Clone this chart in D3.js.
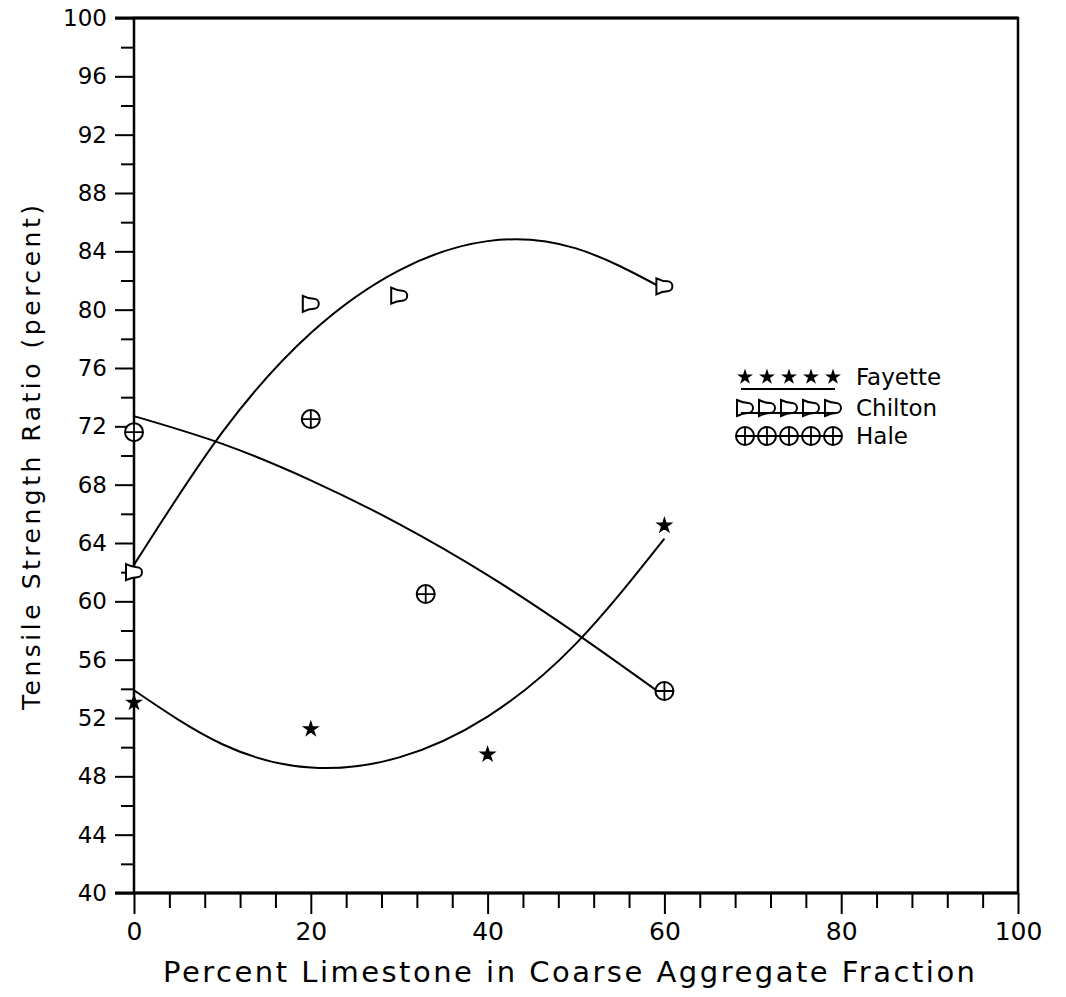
<!DOCTYPE html>
<html>
<head>
<meta charset="utf-8">
<script src="https://cdn.jsdelivr.net/npm/d3@7"></script>
<style>
  body { margin: 0; background: #fff; }
  svg text { font-family: "DejaVu Sans", sans-serif; fill: #000; }
  .axis path, .axis line { stroke: #000; stroke-width: 2; }
</style>
</head>
<body>
<div id="chart"></div>
<script>

// measured points
const fayetteX = [0, 20, 40, 60];
const fayetteY = [53.05, 51.24, 49.5, 65.2];

const chiltonX = [0, 20, 30, 60];
const chiltonY = [62.0, 80.4, 80.96, 81.6];

const haleX = [0, 20, 33, 60];
const haleY = [71.6, 72.5, 60.5, 53.85];

// fitted curves at every 10 %
const curveX = [0, 10, 20, 30, 40, 50, 60];
const fayetteCurve = [53.9, 50.2, 48.6, 49.3, 52.1, 57.1, 64.3];
const chiltonCurve = [62.5, 71.6, 78.4, 82.7, 84.7, 84.2, 81.4];
const haleCurve = [72.7, 70.8, 68.3, 65.3, 61.8, 57.8, 53.5];

const xMajorTicks = [0, 20, 40, 60, 80, 100];
const yMajorTicks = [40, 44, 48, 52, 56, 60, 64, 68, 72, 76, 80, 84, 88, 92, 96, 100];

const legendNames = ["Fayette", "Chilton", "Hale"];

const width = 1066;
const height = 997;

const x = d3.scaleLinear().domain([0, 100]).range([134, 1018]);
const y = d3.scaleLinear().domain([40, 100]).range([893, 18]);

const svg = d3.select("#chart")
  .append("svg")
  .attr("width", width)
  .attr("height", height);

// Axes

const xMinor = d3.range(0, 101, 4).filter(d => d % 20 !== 0);
const yMinor = d3.range(42, 100, 4);

svg.append("g")
  .attr("class", "axis")
  .attr("transform", `translate(0,${y(40)})`)
  .call(d3.axisBottom(x).tickValues(xMinor).tickSize(15).tickSizeOuter(0).tickFormat(""))
  .call(g => g.select(".domain").remove());

svg.append("g")
  .attr("class", "axis")
  .attr("transform", `translate(0,${y(40)})`)
  .call(d3.axisBottom(x).tickValues(xMajorTicks).tickSize(21).tickSizeOuter(0).tickPadding(8))
  .call(g => g.select(".domain").remove())
  .call(g => g.selectAll("text").style("font-size", "25px"));

svg.append("g")
  .attr("class", "axis")
  .attr("transform", `translate(${x(0)},0)`)
  .call(d3.axisLeft(y).tickValues(yMinor).tickSize(13).tickSizeOuter(0).tickFormat(""))
  .call(g => g.select(".domain").remove());

svg.append("g")
  .attr("class", "axis")
  .attr("transform", `translate(${x(0)},0)`)
  .call(d3.axisLeft(y).tickValues(yMajorTicks).tickSize(19).tickSizeOuter(0).tickPadding(8))
  .call(g => g.select(".domain").remove())
  .call(g => g.selectAll("text").style("font-size", "23px"));

// frame
svg.append("rect")
  .attr("x", x(0))
  .attr("y", y(100))
  .attr("width", x(100) - x(0))
  .attr("height", y(40) - y(100))
  .attr("fill", "none")
  .attr("stroke", "#000")
  .attr("stroke-width", 2.5);

svg.append("line")
  .attr("x1", x(0) - 19).attr("x2", x(100))
  .attr("y1", y(40)).attr("y2", y(40))
  .attr("stroke", "#000").attr("stroke-width", 3);

svg.append("line")
  .attr("x1", x(0) - 19).attr("x2", x(100))
  .attr("y1", y(100)).attr("y2", y(100))
  .attr("stroke", "#000").attr("stroke-width", 3);

// Axis titles

svg.append("text")
  .attr("x", 569)
  .attr("y", 982)
  .attr("text-anchor", "middle")
  .attr("textLength", 812)
  .attr("lengthAdjust", "spacing")
  .style("font-size", "29px")
  .text("Percent Limestone in Coarse Aggregate Fraction");

svg.append("text")
  .attr("transform", `translate(40,${(y(40) + y(100)) / 2 + 2}) rotate(-90)`)
  .attr("text-anchor", "middle")
  .attr("textLength", 505)
  .attr("lengthAdjust", "spacing")
  .style("font-size", "25px")
  .text("Tensile Strength Ratio (percent)");

// Curves

const line = d3.line()
  .x(d => x(d[0]))
  .y(d => y(d[1]))
  .curve(d3.curveNatural);

[fayetteCurve, chiltonCurve, haleCurve].forEach(values => {
  svg.append("path")
    .datum(curveX.map((d, i) => [d, values[i]]))
    .attr("d", line)
    .attr("fill", "none")
    .attr("stroke", "#000")
    .attr("stroke-width", 2);
});

// Markers

const bellPath = "M-8,-8 L-8,8 Q-2,5 3,5 A5,5 0 0 0 3,-5 Q-2,-5 -8,-8 Z";

function drawStar(g, cx, cy, size) {
  g.append("path")
    .attr("d", d3.symbol(d3.symbolStar).size(size)())
    .attr("transform", `translate(${cx},${cy})`)
    .attr("fill", "#000")
    .attr("stroke", "#000")
    .attr("stroke-width", 1.5);
}

function drawBell(g, cx, cy) {
  g.append("path")
    .attr("d", bellPath)
    .attr("transform", `translate(${cx},${cy})`)
    .attr("fill", "#fff")
    .attr("stroke", "#000")
    .attr("stroke-width", 2);
}

function drawHale(g, cx, cy, r) {
  g.append("circle")
    .attr("cx", cx).attr("cy", cy).attr("r", r)
    .attr("fill", "#fff")
    .attr("stroke", "#000")
    .attr("stroke-width", 2);
  g.append("path")
    .attr("d", `M${cx - r},${cy}H${cx + r}M${cx},${cy - r}V${cy + r}`)
    .attr("stroke", "#000")
    .attr("stroke-width", 1.8);
}

const marks = svg.append("g");

fayetteX.forEach((d, i) => drawStar(marks, x(d), y(fayetteY[i]), 55));
chiltonX.forEach((d, i) => drawBell(marks, x(d), y(chiltonY[i])));
haleX.forEach((d, i) => drawHale(marks, x(d), y(haleY[i]), 9));

// Legend

const legend = svg.append("g");
const legendLeft = 745;
const legendRight = 833;
const rowY = [377, 408, 436];
const samples = d3.range(5).map(i => legendLeft + i * (legendRight - legendLeft) / 4);

samples.forEach(sx => drawStar(legend, sx, rowY[0], 40));
legend.append("line")
  .attr("x1", legendLeft - 4).attr("x2", legendRight + 2)
  .attr("y1", rowY[0] + 12).attr("y2", rowY[0] + 12)
  .attr("stroke", "#000").attr("stroke-width", 2);

samples.forEach(sx => drawBell(legend, sx, rowY[1]));
legend.append("line")
  .attr("x1", legendLeft - 4).attr("x2", legendRight + 2)
  .attr("y1", rowY[1] + 5).attr("y2", rowY[1] + 5)
  .attr("stroke", "#000").attr("stroke-width", 2);

samples.forEach(sx => drawHale(legend, sx, rowY[2], 9));
legend.append("line")
  .attr("x1", legendLeft - 9).attr("x2", legendRight + 9)
  .attr("y1", rowY[2]).attr("y2", rowY[2])
  .attr("stroke", "#000").attr("stroke-width", 2);

legendNames.forEach((name, i) => {
  legend.append("text")
    .attr("x", 856)
    .attr("y", rowY[i])
    .attr("dy", "0.36em")
    .style("font-size", "23px")
    .text(name);
});

</script>
</body>
</html>
